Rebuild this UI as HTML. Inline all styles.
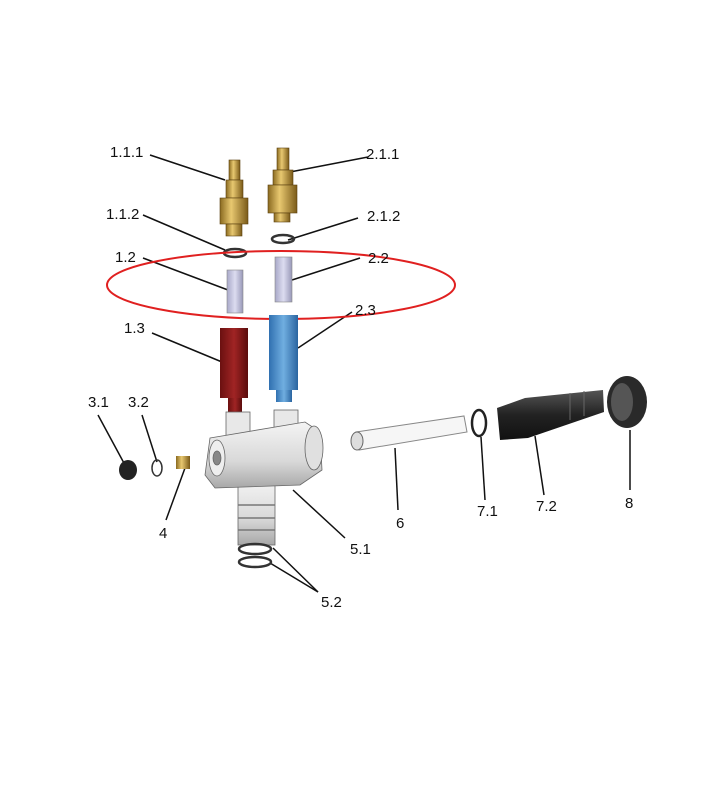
<!DOCTYPE html>
<html><head><style>html,body{margin:0;padding:0;background:#fff}svg{display:block}text{font-family:"Liberation Sans",sans-serif;font-size:15px;fill:#111}</style></head>
<body>
<svg width="720" height="785" viewBox="0 0 720 785" xmlns="http://www.w3.org/2000/svg">
<defs>
<linearGradient id="brass" x1="0" x2="1"><stop offset="0" stop-color="#8a6a20"/><stop offset=".4" stop-color="#e8c870"/><stop offset="1" stop-color="#7a5a18"/></linearGradient>
<linearGradient id="red" x1="0" x2="1"><stop offset="0" stop-color="#6a1010"/><stop offset=".5" stop-color="#a02424"/><stop offset="1" stop-color="#5a0c0c"/></linearGradient>
<linearGradient id="blue" x1="0" x2="1"><stop offset="0" stop-color="#3070b0"/><stop offset=".5" stop-color="#70aee0"/><stop offset="1" stop-color="#2a64a0"/></linearGradient>
<linearGradient id="lav" x1="0" x2="1"><stop offset="0" stop-color="#a8a8c8"/><stop offset=".5" stop-color="#dcdcf0"/><stop offset="1" stop-color="#9898b8"/></linearGradient>
<linearGradient id="grey" x1="0" y1="0" x2="0" y2="1"><stop offset="0" stop-color="#f4f4f4"/><stop offset=".6" stop-color="#d8d8d8"/><stop offset="1" stop-color="#a8a8a8"/></linearGradient>
<linearGradient id="blk" x1="0" y1="0" x2="0" y2="1"><stop offset="0" stop-color="#555"/><stop offset=".5" stop-color="#222"/><stop offset="1" stop-color="#111"/></linearGradient>
</defs>
<g stroke="#111" stroke-width="1.5" fill="none">
<line x1="150" y1="155" x2="225" y2="180"/><line x1="368" y1="157" x2="290" y2="172"/>
<line x1="143" y1="215" x2="225" y2="250"/><line x1="358" y1="218" x2="288" y2="240"/>
<line x1="143" y1="258" x2="228" y2="290"/><line x1="360" y1="258" x2="292" y2="280"/>
<line x1="352" y1="312" x2="298" y2="348"/><line x1="152" y1="333" x2="222" y2="362"/>
<line x1="98" y1="415" x2="125" y2="465"/><line x1="142" y1="415" x2="157" y2="462"/>
<line x1="166" y1="520" x2="185" y2="468"/><line x1="345" y1="538" x2="293" y2="490"/>
<line x1="398" y1="510" x2="395" y2="448"/><line x1="485" y1="500" x2="481" y2="437"/>
<line x1="544" y1="495" x2="535" y2="436"/><line x1="630" y1="490" x2="630" y2="430"/>
<line x1="318" y1="592" x2="273" y2="548"/><line x1="318" y1="592" x2="270" y2="563"/>
</g>
<g stroke="#5a4010" stroke-width=".6">
<rect x="229" y="160" width="11" height="20" fill="url(#brass)"/>
<rect x="226" y="180" width="17" height="18" fill="url(#brass)"/>
<rect x="220" y="198" width="28" height="26" fill="url(#brass)"/>
<rect x="226" y="224" width="16" height="12" fill="url(#brass)"/>
<rect x="277" y="148" width="12" height="22" fill="url(#brass)"/>
<rect x="273" y="170" width="20" height="15" fill="url(#brass)"/>
<rect x="268" y="185" width="29" height="28" fill="url(#brass)"/>
<rect x="274" y="213" width="16" height="9" fill="url(#brass)"/>
</g>
<ellipse cx="235" cy="253" rx="11" ry="4" fill="none" stroke="#333" stroke-width="2.5"/>
<ellipse cx="283" cy="239" rx="11" ry="4" fill="none" stroke="#333" stroke-width="2.5"/>
<rect x="227" y="270" width="16" height="43" fill="url(#lav)" stroke="#888" stroke-width=".6"/>
<rect x="275" y="257" width="17" height="45" fill="url(#lav)" stroke="#888" stroke-width=".6"/>
<ellipse cx="281" cy="285" rx="174" ry="34" fill="none" stroke="#e02020" stroke-width="2"/>
<rect x="220" y="328" width="28" height="70" fill="url(#red)"/>
<rect x="228" y="398" width="14" height="14" fill="url(#red)"/>
<rect x="269" y="315" width="29" height="75" fill="url(#blue)"/>
<rect x="276" y="390" width="16" height="12" fill="url(#blue)"/>
<g stroke="#666" stroke-width=".8">
<rect x="238" y="480" width="37" height="65" fill="url(#grey)"/>
<rect x="226" y="412" width="24" height="26" fill="#e8e8e8"/>
<rect x="274" y="410" width="24" height="24" fill="#e8e8e8"/>
<path d="M210 438 L305 422 L320 432 L322 470 L300 485 L215 488 L205 475 Z" fill="url(#grey)"/>
<ellipse cx="314" cy="448" rx="9" ry="22" fill="#e0e0e0"/>
<ellipse cx="217" cy="458" rx="8" ry="18" fill="#eee"/>
<ellipse cx="217" cy="458" rx="4" ry="7" fill="#888"/>
</g>
<g stroke="#777" stroke-width="1.5"><line x1="238" y1="505" x2="275" y2="505"/><line x1="238" y1="518" x2="275" y2="518"/><line x1="238" y1="530" x2="275" y2="530"/></g>
<ellipse cx="128" cy="470" rx="9" ry="10" fill="#222"/>
<ellipse cx="157" cy="468" rx="5" ry="8" fill="none" stroke="#333" stroke-width="1.5"/>
<rect x="176" y="456" width="14" height="13" fill="url(#brass)"/>
<path d="M356 432 L464 416 L467 432 L359 450 Z" fill="#f6f6f6" stroke="#888"/>
<ellipse cx="357" cy="441" rx="6" ry="9" fill="#ddd" stroke="#666"/>
<ellipse cx="479" cy="423" rx="7" ry="13" fill="none" stroke="#222" stroke-width="2.5"/>
<path d="M497 408 L525 398 L603 390 L604 412 L528 438 L500 440 Z" fill="url(#blk)"/>
<g stroke="#666" stroke-width="1"><line x1="570" y1="393" x2="570" y2="420"/><line x1="584" y1="391" x2="584" y2="416"/></g>
<ellipse cx="627" cy="402" rx="20" ry="26" fill="#2a2a2a"/>
<ellipse cx="622" cy="402" rx="11" ry="19" fill="#555"/>
<ellipse cx="255" cy="549" rx="16" ry="5" fill="none" stroke="#333" stroke-width="2.5"/>
<ellipse cx="255" cy="562" rx="16" ry="5" fill="none" stroke="#333" stroke-width="2.5"/>
<text x="110" y="157">1.1.1</text><text x="366" y="159">2.1.1</text>
<text x="106" y="219">1.1.2</text><text x="367" y="221">2.1.2</text>
<text x="115" y="262">1.2</text><text x="368" y="263">2.2</text>
<text x="355" y="315">2.3</text><text x="124" y="333">1.3</text>
<text x="88" y="407">3.1</text><text x="128" y="407">3.2</text>
<text x="159" y="538">4</text><text x="350" y="554">5.1</text>
<text x="396" y="528">6</text><text x="477" y="516">7.1</text>
<text x="536" y="511">7.2</text><text x="625" y="508">8</text>
<text x="321" y="607">5.2</text>
</svg>
</body></html>
